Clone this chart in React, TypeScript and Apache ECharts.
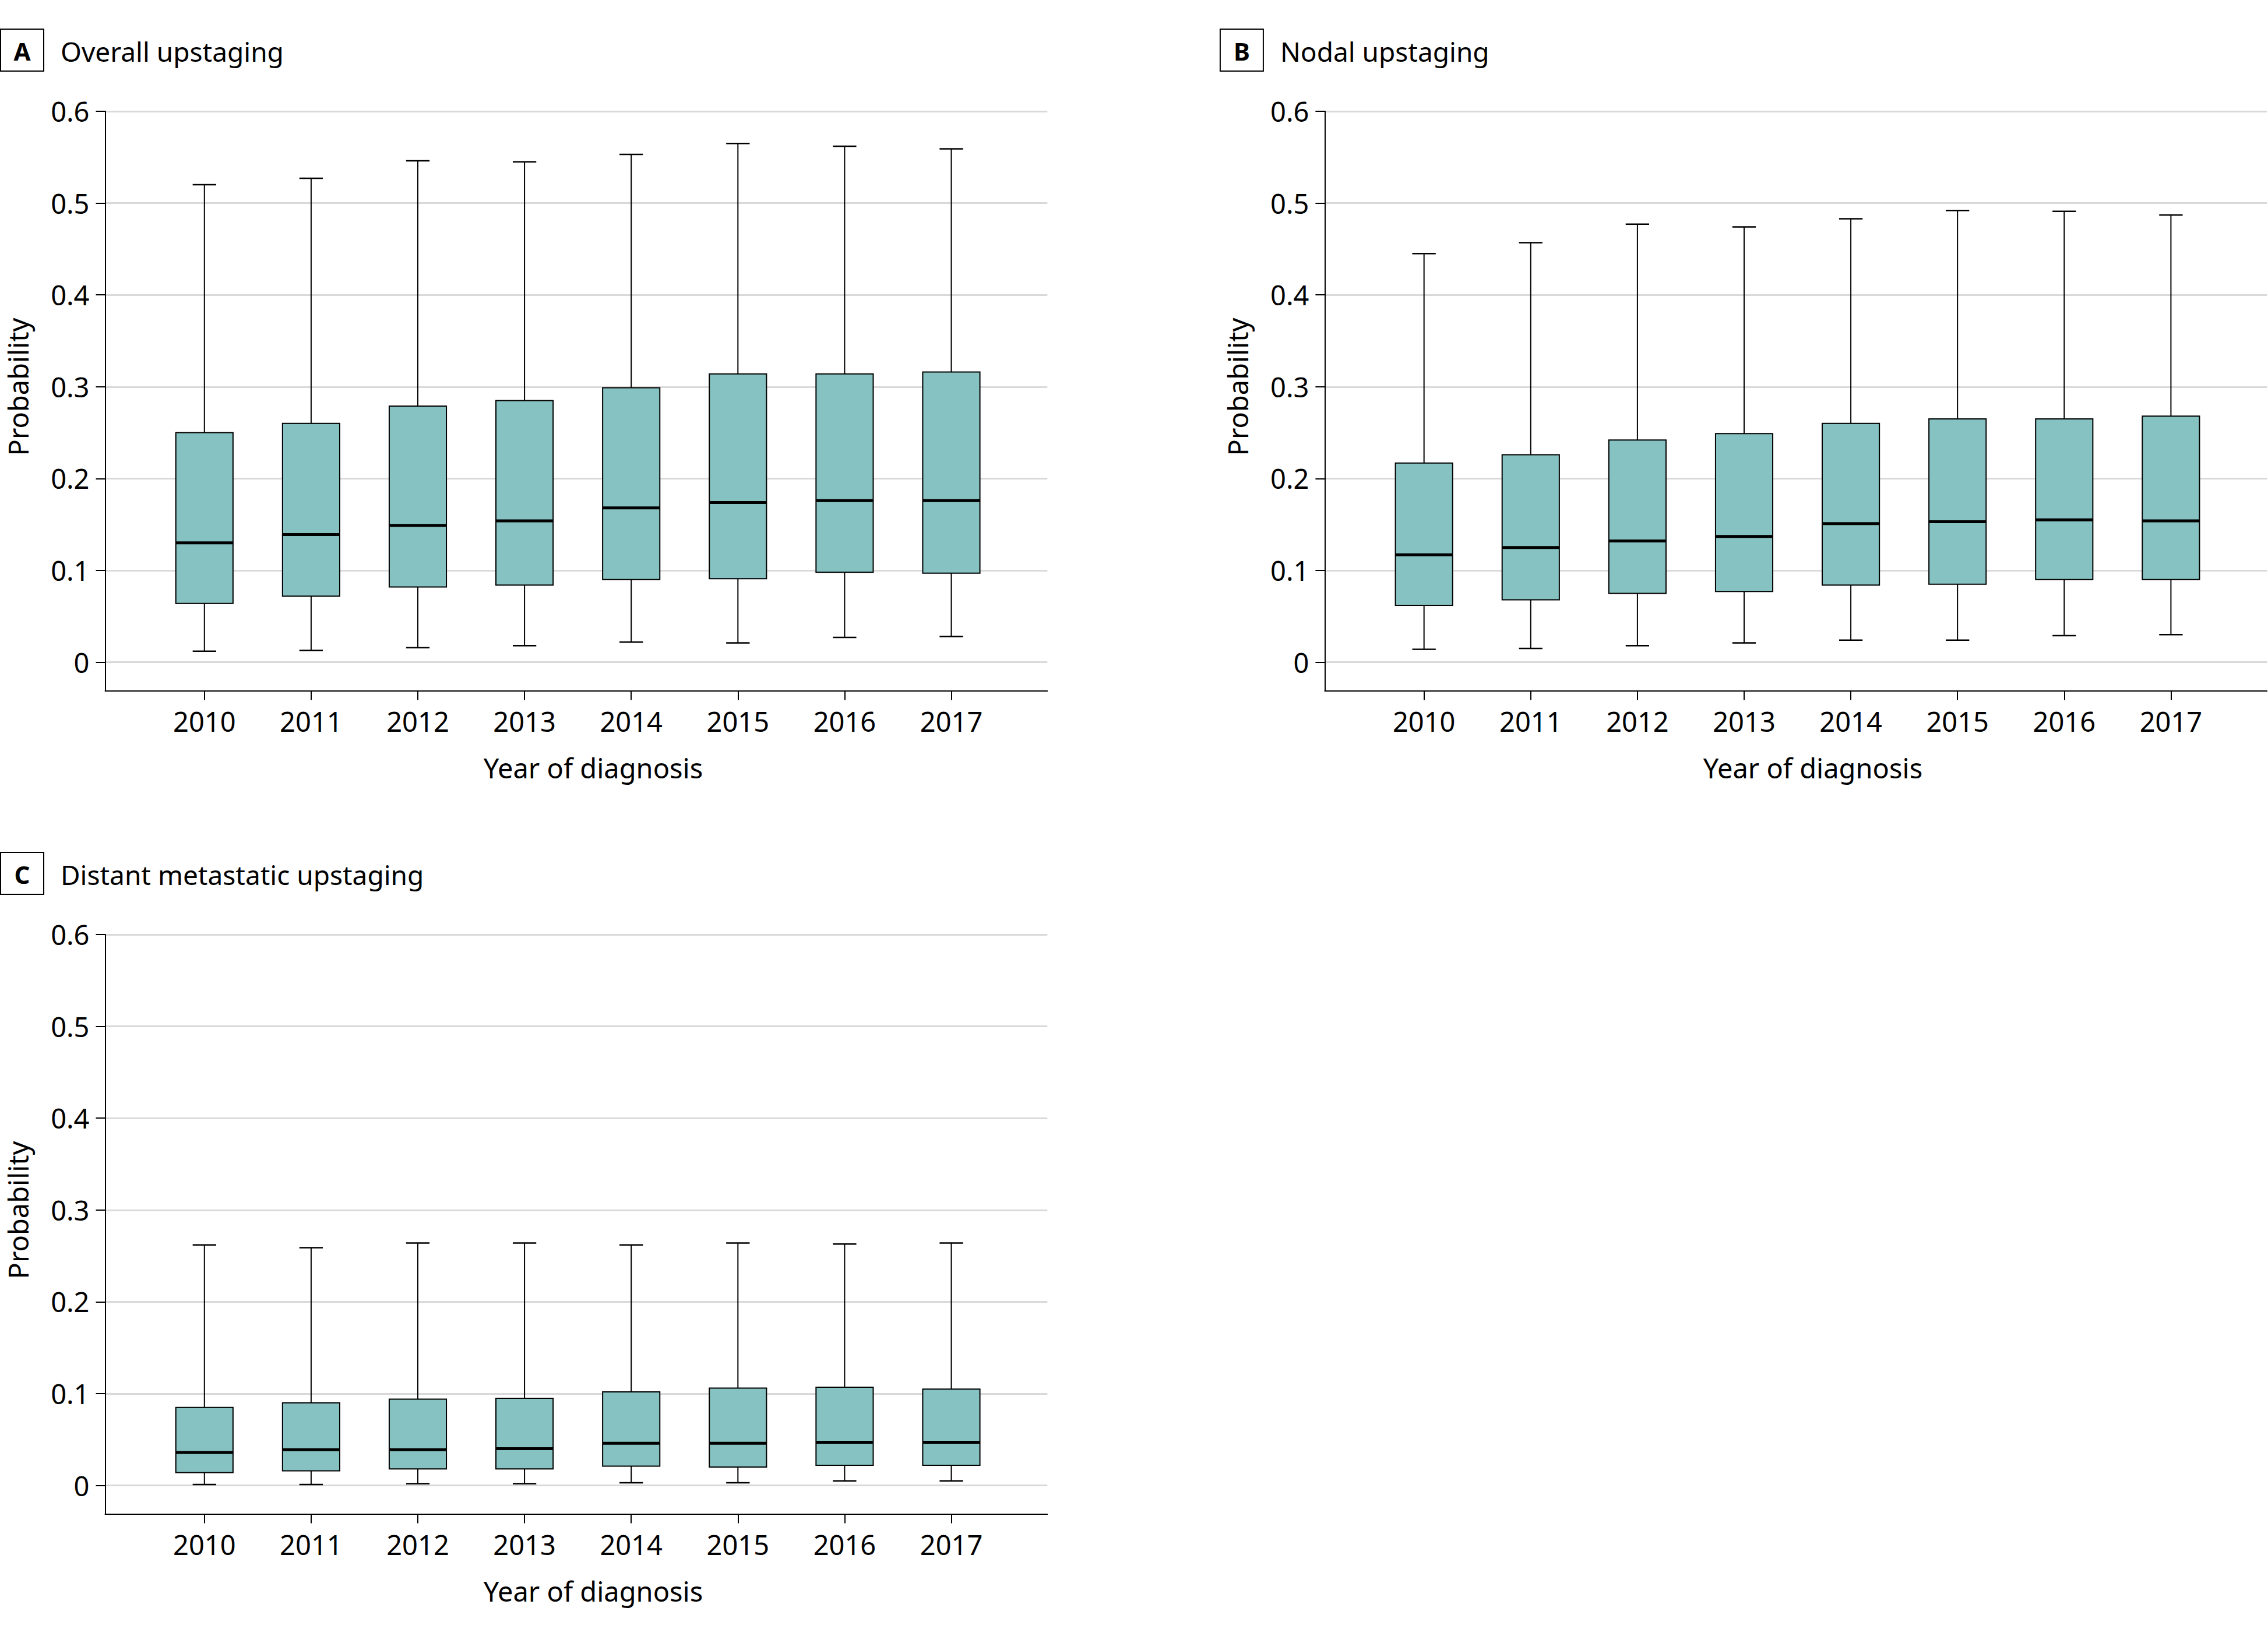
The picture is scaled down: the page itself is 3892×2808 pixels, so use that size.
import React, { useEffect, useRef } from "react";
import * as echarts from "echarts";

// ---------- data ----------
const years = [2010, 2011, 2012, 2013, 2014, 2015, 2016, 2017];
const yTicks = [0, 0.1, 0.2, 0.3, 0.4, 0.5, 0.6];

// A: Overall upstaging
const overallLow = [0.012, 0.013, 0.016, 0.018, 0.022, 0.021, 0.027, 0.028];
const overallQ1 = [0.064, 0.072, 0.082, 0.084, 0.09, 0.091, 0.098, 0.097];
const overallMedian = [0.13, 0.139, 0.149, 0.154, 0.168, 0.174, 0.176, 0.176];
const overallQ3 = [0.25, 0.26, 0.279, 0.285, 0.299, 0.314, 0.314, 0.316];
const overallHigh = [0.52, 0.527, 0.546, 0.545, 0.553, 0.565, 0.562, 0.559];

// B: Nodal upstaging
const nodalLow = [0.014, 0.015, 0.018, 0.021, 0.024, 0.024, 0.029, 0.03];
const nodalQ1 = [0.062, 0.068, 0.075, 0.077, 0.084, 0.085, 0.09, 0.09];
const nodalMedian = [0.117, 0.125, 0.132, 0.137, 0.151, 0.153, 0.155, 0.154];
const nodalQ3 = [0.217, 0.226, 0.242, 0.249, 0.26, 0.265, 0.265, 0.268];
const nodalHigh = [0.445, 0.457, 0.477, 0.474, 0.483, 0.492, 0.491, 0.487];

// C: Distant metastatic upstaging
const distantLow = [0.001, 0.001, 0.002, 0.002, 0.003, 0.003, 0.005, 0.005];
const distantQ1 = [0.014, 0.016, 0.018, 0.018, 0.021, 0.02, 0.022, 0.022];
const distantMedian = [0.036, 0.039, 0.039, 0.04, 0.046, 0.046, 0.047, 0.047];
const distantQ3 = [0.085, 0.09, 0.094, 0.095, 0.102, 0.106, 0.107, 0.105];
const distantHigh = [0.262, 0.259, 0.264, 0.264, 0.262, 0.264, 0.263, 0.264];

const panelLetters = ["A", "B", "C"];
const panelTitles = ["Overall upstaging", "Nodal upstaging", "Distant metastatic upstaging"];
const yAxisTitle = "Probability";
const xAxisTitle = "Year of diagnosis";

// ---------- style / layout ----------
const FONT = "'Noto Sans', sans-serif";
const FS = 47;
const BOX_FILL = "#86C2C1";
const GRID_COLOR = "#d9d9d9";
const X_MIN = 2009.07;
const X_MAX = 2017.9;
const Y_MIN = -0.031;
const Y_MAX = 0.6;
const GRID_W = 1616.8;
const GRID_H = 994.5;
const BOX_RATIO = 0.536;
const CAP_RATIO = 0.22;

const panelPos = [
  { left: 180.5, top: 191 },
  { left: 2273.4, top: 191 },
  { left: 180.5, top: 1604 },
];

function buildRows(lo: number[], q1: number[], md: number[], q3: number[], hi: number[]) {
  return years.map((y, i) => [y, lo[i], q1[i], md[i], q3[i], hi[i]]);
}

const panelRows = [
  buildRows(overallLow, overallQ1, overallMedian, overallQ3, overallHigh),
  buildRows(nodalLow, nodalQ1, nodalMedian, nodalQ3, nodalHigh),
  buildRows(distantLow, distantQ1, distantMedian, distantQ3, distantHigh),
];

function renderBox(params: any, api: any) {
  const x = api.value(0);
  const lo = api.coord([x, api.value(1)]);
  const q1 = api.coord([x, api.value(2)]);
  const md = api.coord([x, api.value(3)]);
  const q3 = api.coord([x, api.value(4)]);
  const hi = api.coord([x, api.value(5)]);
  const unit = api.size([1, 0])[0];
  const bw = unit * BOX_RATIO;
  const cw = unit * CAP_RATIO;
  const cx = lo[0];
  const stroke = { stroke: "#000", lineWidth: 2 };
  return {
    type: "group",
    children: [
      { type: "line", shape: { x1: cx, y1: hi[1], x2: cx, y2: q3[1] }, style: stroke },
      { type: "line", shape: { x1: cx, y1: q1[1], x2: cx, y2: lo[1] }, style: stroke },
      { type: "line", shape: { x1: cx - cw / 2, y1: hi[1], x2: cx + cw / 2, y2: hi[1] }, style: { stroke: "#000", lineWidth: 2.5 } },
      { type: "line", shape: { x1: cx - cw / 2, y1: lo[1], x2: cx + cw / 2, y2: lo[1] }, style: { stroke: "#000", lineWidth: 2.5 } },
      {
        type: "rect",
        shape: { x: cx - bw / 2, y: q3[1], width: bw, height: q1[1] - q3[1] },
        style: { fill: BOX_FILL, stroke: "#000", lineWidth: 2 },
      },
      { type: "line", shape: { x1: cx - bw / 2, y1: md[1], x2: cx + bw / 2, y2: md[1] }, style: { stroke: "#000", lineWidth: 5 } },
    ],
  };
}

export default function App() {
  const ref = useRef<HTMLDivElement>(null);

  useEffect(() => {
    if (!ref.current) return;
    const chart = echarts.init(ref.current, null, { renderer: "svg" });

    const grids = panelPos.map((p) => ({
      left: p.left,
      top: p.top,
      width: GRID_W,
      height: GRID_H,
      containLabel: false,
      outerBoundsMode: "none",
    }));

    const xAxes = panelPos.map((_, i) => ({
      type: "value",
      gridIndex: i,
      min: X_MIN,
      max: X_MAX,
      position: "bottom",
      axisLine: { show: true, onZero: false, lineStyle: { color: "#000", width: 2 } },
      axisTick: { show: true, length: 16, customValues: years, lineStyle: { color: "#000", width: 2 } },
      axisLabel: {
        show: true,
        customValues: years,
        margin: 29,
        color: "#000",
        fontFamily: FONT,
        fontSize: FS,
        formatter: (v: number) => String(Math.round(v)),
      },
      splitLine: { show: false },
    }));

    const yAxes = panelPos.map((_, i) => ({
      type: "value",
      gridIndex: i,
      min: Y_MIN,
      max: Y_MAX,
      position: "left",
      axisLine: { show: true, onZero: false, lineStyle: { color: "#000", width: 2 } },
      axisTick: { show: true, length: 16, customValues: yTicks, lineStyle: { color: "#000", width: 2 } },
      axisLabel: {
        show: true,
        customValues: yTicks,
        margin: 27,
        color: "#000",
        fontFamily: FONT,
        fontSize: FS,
        formatter: (v: number) => (v < -0.001 ? "" : String(Math.round(v * 10) / 10)),
      },
      splitLine: { show: true, lineStyle: { color: GRID_COLOR, width: 3 } },
    }));

    const series = panelRows.map((rows, i) => ({
      type: "custom",
      xAxisIndex: i,
      yAxisIndex: i,
      renderItem: renderBox,
      encode: { x: 0, y: [1, 2, 3, 4, 5] },
      data: rows,
      z: 5,
    }));

    const graphics: any[] = [];
    panelPos.forEach((p, i) => {
      const ox = p.left - 180.5;
      const oy = p.top - 191;
      graphics.push({
        type: "rect",
        shape: { x: 1 + ox, y: 50 + oy, width: 74, height: 72 },
        style: { fill: "none", stroke: "#000", lineWidth: 2 },
      });
      graphics.push({
        type: "text",
        x: 38 + ox,
        y: 87 + oy,
        style: {
          text: panelLetters[i],
          fontFamily: FONT,
          fontWeight: "bold",
          fontSize: 42,
          fill: "#000",
          align: "center",
          verticalAlign: "middle",
        },
      });
      graphics.push({
        type: "text",
        x: 104 + ox,
        y: 88 + oy,
        style: {
          text: panelTitles[i],
          fontFamily: FONT,
          fontSize: 46,
          fill: "#000",
          align: "left",
          verticalAlign: "middle",
        },
      });
      graphics.push({
        type: "text",
        x: 31 + ox,
        y: 664 + oy,
        rotation: Math.PI / 2,
        style: {
          text: yAxisTitle,
          fontFamily: FONT,
          fontSize: FS,
          fill: "#000",
          align: "center",
          verticalAlign: "middle",
        },
      });
      graphics.push({
        type: "text",
        x: 1018 + ox,
        y: 1318 + oy,
        style: {
          text: xAxisTitle,
          fontFamily: FONT,
          fontSize: FS,
          fill: "#000",
          align: "center",
          verticalAlign: "middle",
        },
      });
    });

    chart.setOption({
      animation: false,
      backgroundColor: "#fff",
      textStyle: { fontFamily: FONT },
      grid: grids,
      xAxis: xAxes,
      yAxis: yAxes,
      series,
      graphic: graphics,
    } as any);

    return () => {
      chart.dispose();
    };
  }, []);

  return (
    <div
      ref={ref}
      style={{ position: "absolute", left: 0, top: 0, width: 3892, height: 2808, background: "#fff" }}
    />
  );
}
